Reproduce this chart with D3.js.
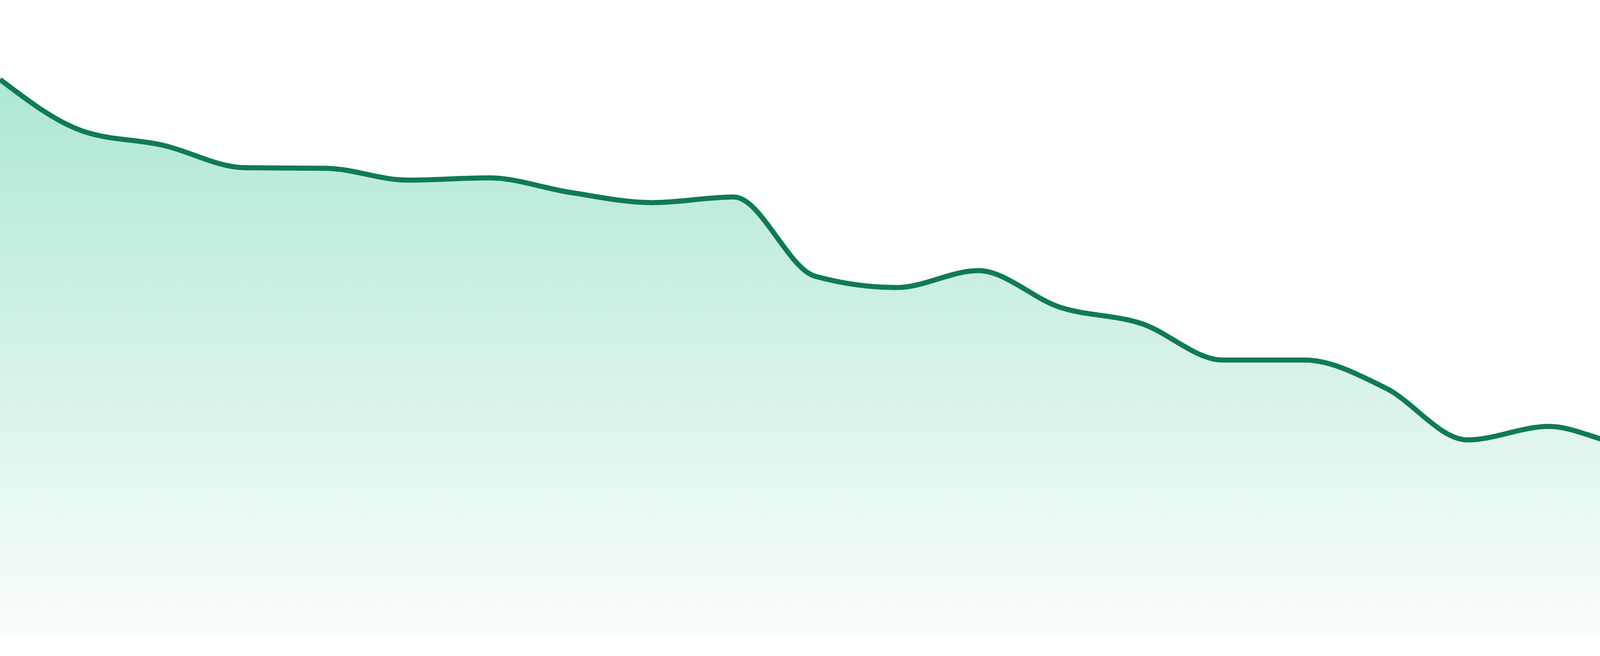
<!DOCTYPE html>
<html lang="en">
<head>
  <meta charset="UTF-8">
  <title>Area trend</title>
  <script src="https://d3js.org/d3.v7.min.js"></script>
  <style>
    html, body { margin: 0; padding: 0; background: #fff; overflow: hidden; }
    svg { display: block; }
  </style>
</head>
<body>
  <svg id="chart" width="4800" height="1680"></svg>

  <script>
    // categories along the x axis (no labels are shown in the chart)
    const weeks = [
      "W01", "W02", "W03", "W04", "W05", "W06", "W07", "W08",
      "W09", "W10", "W11", "W12", "W13", "W14", "W15", "W16",
      "W17", "W18", "W19", "W20", "W21", "W22", "W23", "W24"
    ];

    // series values
    const values = [
      99.2, 90.1, 87.5, 83.5, 83.4, 81.3, 81.7, 79.1,
      77.3, 78.3, 64.2, 62.2, 65.2, 58.7, 55.8, 49.3,
      49.3, 44.3, 35.1, 37.5, 34.3, 35.5, 28.5, 27.2
    ];

    const yDomain = [0, 100];

    const width = 4800;
    const baseY = 1632;
    const topY = 192;
    const lineColor = "#107b51";
    const fillColor = "rgb(16,185,129)";

    const svg = d3.select("#chart");

    const data = weeks.map((w, i) => ({ week: w, value: values[i] }));

    const x = d3.scalePoint()
      .domain(weeks)
      .range([0, width]);

    const y = d3.scaleLinear()
      .domain(yDomain)
      .range([baseY, topY]);

    // vertical fade under the line
    const grad = svg.append("defs")
      .append("linearGradient")
      .attr("id", "fade")
      .attr("gradientUnits", "userSpaceOnUse")
      .attr("x1", 0).attr("x2", 0)
      .attr("y1", y(d3.max(values)))
      .attr("y2", baseY);

    grad.append("stop")
      .attr("offset", "0%")
      .attr("stop-color", fillColor)
      .attr("stop-opacity", 0.34);

    grad.append("stop")
      .attr("offset", "100%")
      .attr("stop-color", fillColor)
      .attr("stop-opacity", 0.02);

    const area = d3.area()
      .x(d => x(d.week))
      .y0(baseY)
      .y1(d => y(d.value))
      .curve(d3.curveMonotoneX);

    const line = d3.line()
      .x(d => x(d.week))
      .y(d => y(d.value))
      .curve(d3.curveMonotoneX);

    svg.append("path")
      .datum(data)
      .attr("d", area)
      .attr("fill", "url(#fade)");

    svg.append("path")
      .datum(data)
      .attr("d", line)
      .attr("fill", "none")
      .attr("stroke", lineColor)
      .attr("stroke-width", 13)
      .attr("stroke-linejoin", "round");
  </script>
</body>
</html>
